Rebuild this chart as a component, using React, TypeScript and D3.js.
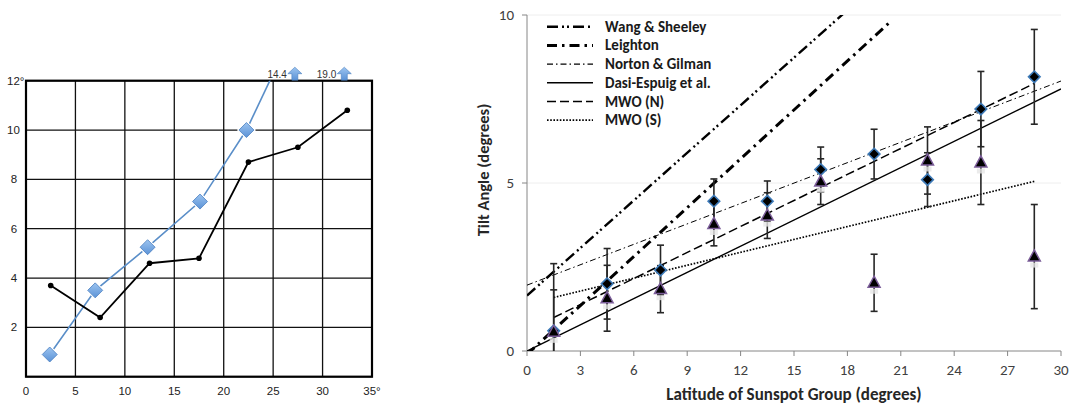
import React from "react";
import * as d3 from "d3";

// ---------- Left panel data ----------
const leftLatBlack = [2.5, 7.5, 12.5, 17.5, 22.5, 27.5, 32.5];
const leftTiltBlack = [3.7, 2.4, 4.6, 4.8, 8.7, 9.3, 10.8];
const leftLatBlue = [2.4, 7.0, 12.3, 17.6, 22.3];
const leftTiltBlue = [0.9, 3.5, 5.25, 7.1, 10.0];
const leftOffLat = [27.5, 32.5];
const leftOffTilt = [14.4, 19.0];
const leftXTicks = [0, 5, 10, 15, 20, 25, 30, 35];
const leftYTicks = [2, 4, 6, 8, 10, 12];

// ---------- Right panel data ----------
const latBins = [1.5, 4.5, 7.5, 10.5, 13.5, 16.5, 19.5, 22.5, 25.5, 28.5];
const mwoN = [0.6, 2.0, 2.41, 4.46, 4.46, 5.4, 5.86, 5.1, 7.2, 8.16];
const mwoNErr = [2.0, 1.05, 0.74, 0.66, 0.6, 0.67, 0.74, 0.8, 1.12, 1.41];
const mwoS = [0.57, 1.57, 1.84, 3.78, 4.03, 5.04, 2.03, 5.67, 5.61, 2.81];
const mwoSErr = [1.25, 0.98, 0.7, 0.65, 0.68, 0.68, 0.85, 1.0, 1.25, 1.55];

const fitNames = ["Wang & Sheeley", "Leighton", "Norton & Gilman", "Dasi-Espuig et al.", "MWO (N)", "MWO (S)"];
const fitIntercepts = [1.65, -0.1, 1.96, 0.0, 0.61, 1.4];
const fitSlopes = [0.472, 0.485, 0.2025, 0.26, 0.258, 0.128];
const fitFrom = [0, 0, 0, 0, 1.5, 1.5];
const fitTo = [30, 20.5, 30, 30, 28.5, 28.5];
const fitDash = ["11,4,2,3,2,4", "10,5,2.5,5", "6,3,1.5,3", "none", "9,4", "1.6,1.6"];
const fitWidth = [2.4, 3, 1, 1.4, 1.5, 1.7];

const rightXTicks = [0, 3, 6, 9, 12, 15, 18, 21, 24, 27, 30];
const rightYTicks = [0, 5, 10];

export default function App() {
  // Left scales
  const xL = d3.scaleLinear().domain([0, 35]).range([26, 372]);
  const yL = d3.scaleLinear().domain([0, 12]).range([376.7, 80.7]);
  const lineL = d3.line<[number, number]>().x((d) => xL(d[0])).y((d) => yL(d[1]));
  const blackPts: [number, number][] = leftLatBlack.map((x, i) => [x, leftTiltBlack[i]]);
  const bluePts: [number, number][] = leftLatBlue.map((x, i) => [x, leftTiltBlue[i]]);
  const blueExt: [number, number][] = [bluePts[bluePts.length - 1], [leftOffLat[0], leftOffTilt[0]]];

  // Right scales
  const xR = d3.scaleLinear().domain([0, 30]).range([527, 1061]);
  const yR = d3.scaleLinear().domain([0, 10]).range([351, 15]);
  const lineR = d3.line<[number, number]>().x((d) => xR(d[0])).y((d) => yR(d[1]));

  const diamond = (cx: number, cy: number, r: number) =>
    `M${cx},${cy - r}L${cx + r},${cy}L${cx},${cy + r}L${cx - r},${cy}Z`;
  const tri = (cx: number, cy: number, w: number, h: number) =>
    `M${cx},${cy - h * 0.6}L${cx + w / 2},${cy + h * 0.4}L${cx - w / 2},${cy + h * 0.4}Z`;
  const upArrow = (cx: number, bottom: number) =>
    `M${cx},${bottom - 13}L${cx + 7},${bottom - 6.5}L${cx + 3},${bottom - 6.5}L${cx + 3},${bottom}L${cx - 3},${bottom}L${cx - 3},${bottom - 6.5}L${cx - 7},${bottom - 6.5}Z`;

  const fontL = "'Liberation Sans', Arial, sans-serif";
  const fontR = "Carlito, Lato, 'Open Sans', sans-serif";

  return (
    <svg width={1071} height={405} style={{ position: "absolute", left: 0, top: 0, background: "#fff" }}>
      <defs>
        <clipPath id="leftClip">
          <rect x={26} y={80.7} width={346} height={296} />
        </clipPath>
        <clipPath id="rightClip">
          <rect x={527} y={15} width={534} height={336} />
        </clipPath>
        <linearGradient id="blueDia" x1="0" y1="0" x2="0" y2="1">
          <stop offset="0" stopColor="#9cc4f0" />
          <stop offset="1" stopColor="#5b92d6" />
        </linearGradient>
      </defs>

      {/* ---------------- LEFT PANEL ---------------- */}
      <g>
        {leftXTicks.map((t) => (
          <line key={"gx" + t} x1={xL(t)} x2={xL(t)} y1={yL(0)} y2={yL(12)} stroke="#111" strokeWidth={1.3} />
        ))}
        {[0, ...leftYTicks].map((t) => (
          <line key={"gy" + t} x1={xL(0)} x2={xL(35)} y1={yL(t)} y2={yL(t)} stroke="#111" strokeWidth={1.3} />
        ))}
        <rect x={xL(0)} y={yL(12)} width={xL(35) - xL(0)} height={yL(0) - yL(12)} fill="none" stroke="#000" strokeWidth={2.2} />

        {leftXTicks.map((t) => (
          <text key={"lx" + t} x={xL(t)} y={395} textAnchor="middle" fontFamily={fontL} fontSize={11.5} fill="#222">
            {t === 35 ? "35°" : String(t)}
          </text>
        ))}
        {leftYTicks.map((t) => (
          <text key={"ly" + t} x={t >= 10 ? 7 : 14} y={yL(t) + 4} textAnchor={t >= 10 ? "start" : "middle"} fontFamily={fontL} fontSize={11.5} fill="#222">
            {t === 12 ? "12°" : String(t)}
          </text>
        ))}

        {/* blue series */}
        <g clipPath="url(#leftClip)">
          <path d={lineL(bluePts) || ""} fill="none" stroke="#5a8ec8" strokeWidth={1.6} />
          <path d={lineL(blueExt) || ""} fill="none" stroke="#5a8ec8" strokeWidth={1.6} />
        </g>
        {/* black series */}
        <path d={lineL(blackPts) || ""} fill="none" stroke="#000" strokeWidth={1.8} />
        {blackPts.map((p, i) => (
          <circle key={"bp" + i} cx={xL(p[0])} cy={yL(p[1])} r={2.8} fill="#000" />
        ))}
        {bluePts.map((p, i) => (
          <g key={"bd" + i}>
            <path d={diamond(xL(p[0]), yL(p[1]), 9.5)} fill="#fff" />
            <path d={diamond(xL(p[0]), yL(p[1]), 7.5)} fill="url(#blueDia)" stroke="#4a7fc0" strokeWidth={0.8} />
          </g>
        ))}
        {leftOffLat.map((lat, i) => (
          <g key={"off" + i}>
            <path d={upArrow(xL(lat) - 3, yL(12) - 0.5)} fill="url(#blueDia)" stroke="#4a7fc0" strokeWidth={0.6} />
            <text x={xL(lat) - 11} y={yL(12) - 3} textAnchor="end" fontFamily={fontL} fontSize={10} fill="#333">
              {leftOffTilt[i].toFixed(1)}
            </text>
          </g>
        ))}
      </g>

      {/* ---------------- RIGHT PANEL ---------------- */}
      <g>
        {[5, 10].map((t) => (
          <line key={"rg" + t} x1={xR(0)} x2={xR(30)} y1={yR(t)} y2={yR(t)} stroke="#eeeeee" strokeWidth={1} />
        ))}
        <line x1={xR(0)} x2={xR(0)} y1={yR(10)} y2={yR(0)} stroke="#868686" strokeWidth={1} />
        <line x1={xR(0)} x2={xR(30)} y1={yR(0)} y2={yR(0)} stroke="#868686" strokeWidth={1} />
        {rightXTicks.map((t) => (
          <g key={"rx" + t}>
            <line x1={xR(t)} x2={xR(t)} y1={yR(0)} y2={yR(0) + 5} stroke="#868686" />
            <text x={xR(t)} y={yR(0) + 24} textAnchor="middle" fontFamily={fontR} fontSize={15} fill="#404040">
              {t}
            </text>
          </g>
        ))}
        {rightYTicks.map((t) => (
          <g key={"ry" + t}>
            <line x1={xR(0) - 5} x2={xR(0)} y1={yR(t)} y2={yR(t)} stroke="#868686" />
            <text x={xR(0) - 13} y={yR(t) + 5} textAnchor="end" fontFamily={fontR} fontSize={15} fill="#404040">
              {t}
            </text>
          </g>
        ))}
        <text x={(xR(0) + xR(30)) / 2} y={400} textAnchor="middle" fontFamily={fontR} fontWeight="bold" fontSize={17} fill="#262626">
          Latitude of Sunspot Group (degrees)
        </text>
        <text transform={`translate(489,170) rotate(-90)`} textAnchor="middle" fontFamily={fontR} fontWeight="bold" fontSize={16.5} fill="#262626">
          Tilt Angle (degrees)
        </text>

        {/* fit lines */}
        <g clipPath="url(#rightClip)">
          {fitNames.map((n, i) => {
            const pts: [number, number][] = [
              [fitFrom[i], fitIntercepts[i] + fitSlopes[i] * fitFrom[i]],
              [fitTo[i], fitIntercepts[i] + fitSlopes[i] * fitTo[i]],
            ];
            return (
              <path
                key={"fit" + i}
                d={lineR(pts) || ""}
                fill="none"
                stroke="#000"
                strokeWidth={fitWidth[i]}
                strokeDasharray={fitDash[i] === "none" ? undefined : fitDash[i]}
              />
            );
          })}
        </g>

        {/* error bars */}
        <g clipPath="url(#rightClip)">
          {latBins.map((lat, i) => (
            <g key={"eb" + i} stroke="#262626" strokeWidth={1.6}>
              {[
                [mwoN[i], mwoNErr[i]],
                [mwoS[i], mwoSErr[i]],
              ].map(([v, e], k) => (
                <g key={k}>
                  <line x1={xR(lat)} x2={xR(lat)} y1={yR(v + e)} y2={yR(v - e)} />
                  <line x1={xR(lat) - 3.5} x2={xR(lat) + 3.5} y1={yR(v + e)} y2={yR(v + e)} />
                  <line x1={xR(lat) - 3.5} x2={xR(lat) + 3.5} y1={yR(v - e)} y2={yR(v - e)} />
                </g>
              ))}
            </g>
          ))}
        </g>

        {/* markers */}
        {latBins.map((lat, i) => (
          <path key={"dn" + i} d={diamond(xR(lat), yR(mwoN[i]), 5.8)} fill="#000" stroke="#3d7ab8" strokeWidth={1.6} />
        ))}
        {latBins.map((lat, i) => (
          <g key={"ts" + i}>
            <rect x={xR(lat) - 4} y={yR(mwoS[i]) + 6} width={8} height={5} fill="#e6e6e6" opacity={0.8} />
            <path d={tri(xR(lat), yR(mwoS[i]), 12, 11)} fill="#000" stroke="#7b5d99" strokeWidth={1.5} />
          </g>
        ))}

        {/* legend */}
        <g>
          {fitNames.map((n, i) => {
            const y = 26.7 + i * 18.7;
            return (
              <g key={"lg" + i}>
                <line
                  x1={547}
                  x2={593}
                  y1={y}
                  y2={y}
                  stroke="#000"
                  strokeWidth={Math.max(fitWidth[i], 1.2)}
                  strokeDasharray={fitDash[i] === "none" ? undefined : fitDash[i]}
                />
                <text x={605} y={y + 5} fontFamily={fontR} fontWeight="bold" fontSize={15} fill="#1a1a1a">
                  {n}
                </text>
              </g>
            );
          })}
        </g>
      </g>
    </svg>
  );
}
